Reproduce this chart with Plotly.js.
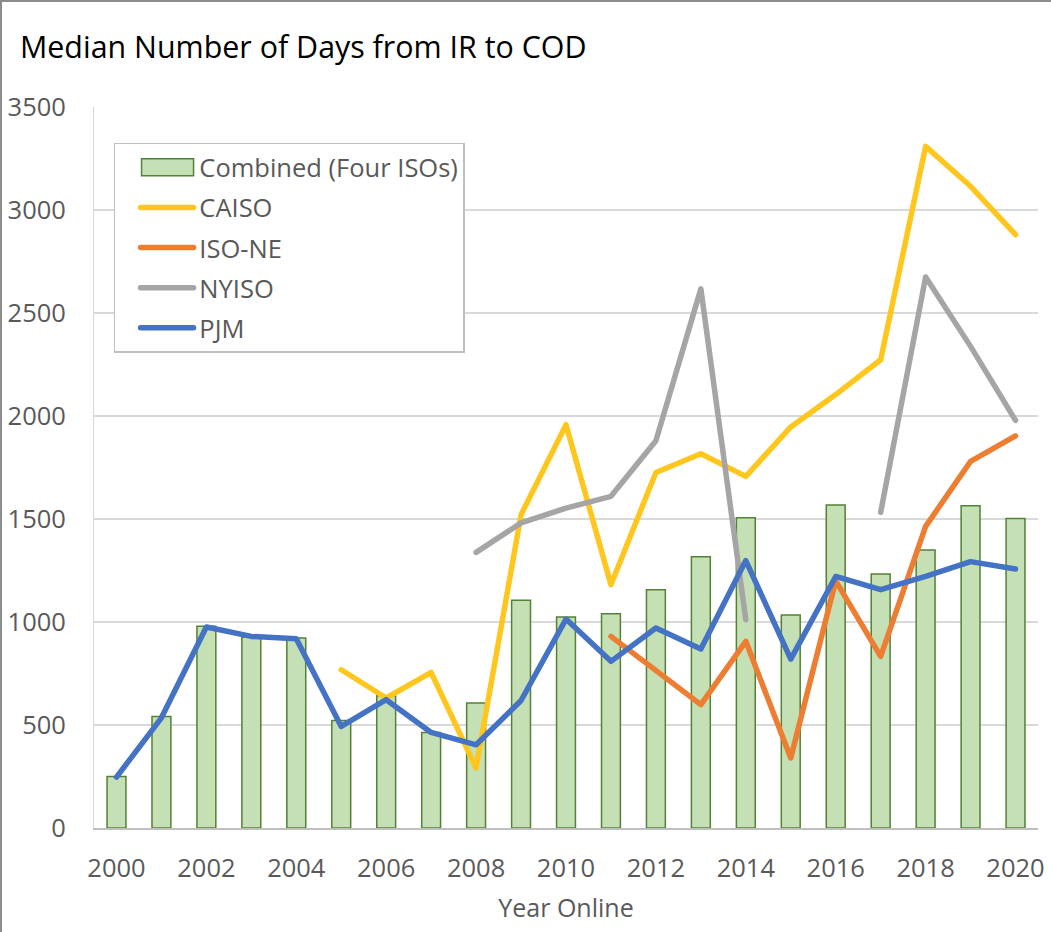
<!DOCTYPE html>
<html>
<head>
<meta charset="utf-8">
<script src="https://cdn.plot.ly/plotly-3.0.1.min.js"></script>
<style>
  html, body { margin: 0; padding: 0; background: #fff; }
  #chart { width: 1051px; height: 932px; }
  #frame { position: absolute; left: 0; top: 0; width: 1049px; height: 940px;
           border-left: 2px solid #8c8c8c; border-top: 2px solid #8c8c8c; pointer-events: none; }
  .scatterlayer path.js-line { stroke-linecap: round; stroke-linejoin: round; }
  .legend .legendlines path { stroke-linecap: round; }
</style>
</head>
<body>
<div id="chart"></div>
<div id="frame"></div>
<script>
const years = [2000,2001,2002,2003,2004,2005,2006,2007,2008,2009,2010,2011,2012,2013,2014,2015,2016,2017,2018,2019,2020];
const combined = [250,541,979,927,922,522,642,464,607,1105,1024,1040,1157,1317,1506,1034,1568,1233,1349,1564,1503];
const caiso = [null,null,null,null,null,768,631,755,291,1521,1958,1181,1726,1817,1707,1947,2104,2273,3309,3115,2880];
const isone = [null,null,null,null,null,null,null,null,null,null,null,930,768,599,906,340,1200,833,1464,1780,1904];
const nyiso = [null,null,null,null,null,null,null,null,1338,1481,1553,1610,1880,2617,1011,null,null,1532,2675,2338,1979];
const pjm = [247,535,976,930,919,493,623,464,404,619,1014,809,971,869,1298,820,1221,1157,1221,1293,1257];
const yTicks = [0,500,1000,1500,2000,2500,3000,3500];
const xTicks = [2000,2002,2004,2006,2008,2010,2012,2014,2016,2018,2020];

const FONT = 'Open Sans, Noto Sans, sans-serif';
const lineTrace = (name, y, color, g) => ({
  type: 'scatter', mode: 'lines', name: name, x: years, y: y,
  line: { color: color, width: 5.5 }, connectgaps: false, legendgroup: g
});

const data = [
  { type: 'bar', name: 'Combined (Four ISOs)', x: years, y: combined, width: 0.42,
    marker: { color: '#c5e0b4', line: { color: '#538135', width: 1.5 } }, legendgroup: 'a' },
  lineTrace('CAISO', caiso, '#ffc61e', 'b'),
  lineTrace('ISO-NE', isone, '#ed7d31', 'c'),
  lineTrace('NYISO', nyiso, '#a5a5a5', 'd'),
  lineTrace('PJM', pjm, '#4472c4', 'e')
];

const layout = {
  width: 1051, height: 932,
  margin: { l: 94, r: 13, t: 107, b: 104 },
  paper_bgcolor: '#fff', plot_bgcolor: '#fff',
  font: { family: FONT, color: '#595959', size: 25 },
  title: { text: 'Median Number of Days from IR to COD', x: 0.019, xanchor: 'left',
           y: 0.949, yanchor: 'middle', font: { family: FONT, size: 30.4, color: '#000' } },
  xaxis: {
    range: [1999.5, 2020.5], tickmode: 'array', tickvals: xTicks, ticktext: xTicks.map(String),
    showgrid: false, showline: true, linecolor: '#bfbfbf', linewidth: 1.5, zeroline: false,
    ticks: '', ticklabelstandoff: 17, tickfont: { size: 25.5, color: '#595959' },
    title: { text: 'Year Online', font: { size: 25, color: '#595959' }, standoff: 16 }
  },
  yaxis: {
    range: [0, 3500], tickmode: 'array', tickvals: yTicks, ticktext: yTicks.map(String),
    showgrid: true, gridcolor: '#d9d9d9', gridwidth: 1.5, zeroline: false,
    showline: true, linecolor: '#d9d9d9', linewidth: 1,
    ticks: '', ticklabelstandoff: 22, tickfont: { size: 25.5, color: '#595959' }
  },
  legend: {
    x: 0.021, y: 0.9505, xanchor: 'left', yanchor: 'top',
    bgcolor: '#fff', bordercolor: '#bfbfbf', borderwidth: 1.5,
    font: { size: 25.5, color: '#595959' }, traceorder: 'grouped', tracegroupgap: 4,
    itemwidth: 74
  },
  showlegend: true
};

Plotly.newPlot('chart', data, layout, { staticPlot: true, displayModeBar: false }).then(function () {
  const bg = document.querySelector('.legend rect.bg');
  if (!bg) return;
  const boxLeft = bg.getBoundingClientRect().left;
  // line symbols: from box+26 to box+79
  document.querySelectorAll('.legend .legendlines path').forEach(function (p) {
    const r = p.getBoundingClientRect();
    const d = p.getAttribute('d') || '';
    const m = d.match(/M\s*([-\d.]+)/);
    if (!m) return;
    const origin = r.left - parseFloat(m[1]);
    const start = boxLeft + 26 - origin;
    p.setAttribute('d', 'M' + start + ',0h53');
  });
  // bar symbol: rectangle from box+27 to box+79, 17px tall
  document.querySelectorAll('.legend .legendpoints path').forEach(function (p) {
    const r = p.getBoundingClientRect();
    const center = r.left + r.width / 2;
    const l = boxLeft + 27 - center, rr = boxLeft + 79 - center;
    p.setAttribute('d', 'M' + l + ',-8.5H' + rr + 'V8.5H' + l + 'Z');
  });
});
</script>
</body>
</html>
